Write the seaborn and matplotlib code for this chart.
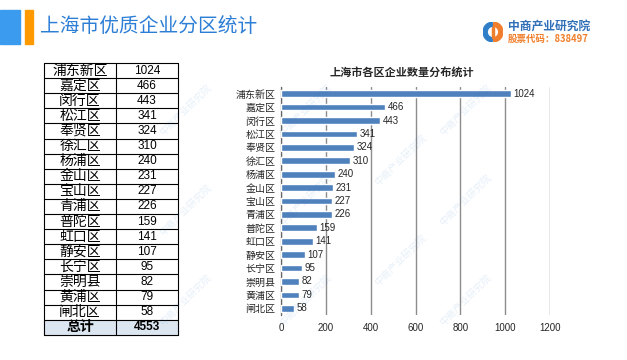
import matplotlib
matplotlib.use("Agg")
import matplotlib.pyplot as plt
import seaborn as sns
import pandas as pd
import numpy as np
from matplotlib.patches import Rectangle, Wedge

districts = ["浦东新区", "嘉定区", "闵行区", "松江区", "奉贤区", "徐汇区", "杨浦区", "金山区",
             "宝山区", "青浦区", "普陀区", "虹口区", "静安区", "长宁区", "崇明县", "黄浦区", "闸北区"]
counts = [1024, 466, 443, 341, 324, 310, 240, 231, 227, 226, 159, 141, 107, 95, 82, 79, 58]
total_label = "总计"
total_value = 4553
x_ticks = [0, 200, 400, 600, 800, 1000, 1200]

sns.set_theme(style="white")
plt.rcParams['font.family'] = ['Noto Sans CJK SC', 'DejaVu Sans']

W, H = 627, 360
fig = plt.figure(figsize=(W / 100, H / 100), dpi=100)
fig.patch.set_facecolor("white")

def fx(px):
    return px / W

def fy(py):
    return 1 - py / H

# Header
fig.patches.append(Rectangle((fx(0), fy(44)), fx(20), 34 / H, transform=fig.transFigure,
                             color="#3B9BEF", zorder=1))
fig.patches.append(Rectangle((fx(25), fy(44)), fx(8), 34 / H, transform=fig.transFigure,
                             color="#FF9900", zorder=1))
fig.text(fx(40), fy(27), "上海市优质企业分区统计", fontsize=14.2, color="#2D7FD6",
         va="center", ha="left")

# Logo (icon drawn in a small square axes)
lax = fig.add_axes([fx(483), fy(42), fx(20), 20 / H])
lax.set_xlim(-1, 1)
lax.set_ylim(-1, 1)
lax.set_aspect("equal")
lax.axis("off")
lax.add_patch(Wedge((0, 0), 1.0, 95, 265, width=0.42, color="#2F7FC8"))
lax.add_patch(Wedge((0, 0), 1.0, -85, 85, width=0.42, color="#F07E2A"))
lax.add_patch(Rectangle((-0.08, -0.55), 0.16, 1.1, color="#F07E2A"))
fig.text(fx(508), fy(26), "中商产业研究院", fontsize=8.5, color="#2F6FB8", ha="left",
         va="center", fontweight="bold")
fig.text(fx(508), fy(39), "股票代码：838497", fontsize=6.8, color="#F07E2A", ha="left",
         va="center", fontweight="bold")

# Table
tx0, tx1, tx2 = 44, 116, 178
ty0 = 63
rh = 15.1
names = districts + [total_label]
vals = [str(v) for v in counts] + [str(total_value)]
n = len(names)
fig.patches.append(Rectangle((fx(tx0), fy(ty0 + rh * n)), fx(tx2 - tx0), rh / H,
                             transform=fig.transFigure, color="#DCE6F1", zorder=1))
for i in range(n + 1):
    y = fy(ty0 + rh * i)
    fig.add_artist(plt.Line2D([fx(tx0), fx(tx2)], [y, y], color="black", lw=0.8,
                              transform=fig.transFigure))
for x in (tx0, tx1, tx2):
    fig.add_artist(plt.Line2D([fx(x), fx(x)], [fy(ty0), fy(ty0 + rh * n)], color="black",
                              lw=0.8, transform=fig.transFigure))
for i, (nm, v) in enumerate(zip(names, vals)):
    yc = fy(ty0 + rh * (i + 0.5))
    bold = (i == n - 1)
    fig.text(fx((tx0 + tx1) / 2), yc, nm, fontsize=10, ha="center", va="center",
             color="black", fontweight="bold" if bold else "normal")
    fig.text(fx((tx1 + tx2) / 2), yc, v, fontsize=8.5, ha="center", va="center",
             color="black", fontweight="bold" if bold else "normal",
             family=["Liberation Sans", "DejaVu Sans"])

# Bar chart
ax = fig.add_axes([fx(281), fy(315), fx(550 - 281), (315 - 87) / H])
df = pd.DataFrame({"district": districts, "count": counts})
sns.barplot(data=df, x="count", y="district", orient="h", color="#4F81BD",
            width=0.5, saturation=1, ax=ax, zorder=3)
ax.set_xlim(x_ticks[0], x_ticks[-1])
ax.set_ylim(len(districts) - 0.5, -0.5)
ax.set_xticks(x_ticks)
ax.set_xticklabels([str(t) for t in x_ticks], fontsize=7, family=["Liberation Sans", "DejaVu Sans"])
ax.set_yticks(range(len(districts)))
ax.set_yticklabels(districts, fontsize=7.2)
ax.set_yticks(np.arange(-0.5, len(districts), 1), minor=True)
ax.tick_params(axis="y", which="major", length=0, pad=4)
ax.tick_params(axis="y", which="minor", length=3, color="#555555", direction="out")
ax.tick_params(axis="x", which="major", length=3, color="#888888", pad=3)
ax.set_xlabel("")
ax.set_ylabel("")
ax.xaxis.grid(True, color="#8C8C8C", lw=1, zorder=0)
ax.yaxis.grid(False)
for s in ("top", "right", "bottom"):
    ax.spines[s].set_visible(False)
ax.spines["left"].set_color("#666666")
ax.spines["left"].set_linewidth(0.9)
for i, v in enumerate(counts):
    ax.text(v + 12, i, str(v), va="center", ha="left", fontsize=7,
            family=["Liberation Sans", "DejaVu Sans"], zorder=4)

fig.text(fx(402), fy(72), "上海市各区企业数量分布统计", fontsize=8, fontweight="bold",
         ha="center", va="center")

# Faint watermarks
for (wx, wy) in [(185, 110), (185, 210), (185, 300), (305, 110), (305, 200), (305, 300),
                 (400, 160), (400, 260), (465, 110), (465, 200), (465, 300)]:
    fig.text(fx(wx), fy(wy), "中商产业研究院", fontsize=7, color="#2F7FC8", alpha=0.12,
             rotation=45, ha="center", va="center")

fig.savefig("out.png", dpi=100, facecolor="white")
